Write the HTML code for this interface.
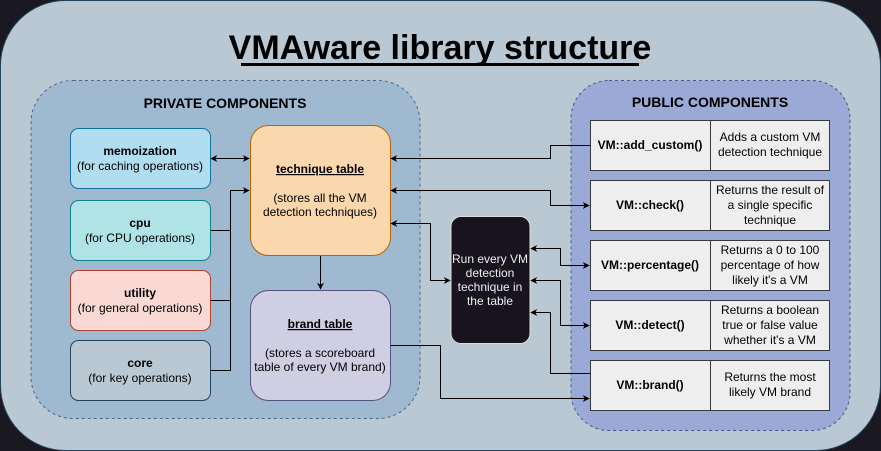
<!DOCTYPE html>
<html><head><meta charset="utf-8"><style>
html,body{margin:0;padding:0;background:#1a1821;}
svg{display:block;font-family:"Liberation Sans",Arial,sans-serif;}
</style></head><body>
<svg width="881" height="451" viewBox="0 0 881 451" xmlns="http://www.w3.org/2000/svg">
<defs>
<marker id="a" viewBox="0 0 10 10" refX="9" refY="5" markerWidth="7" markerHeight="7" orient="auto-start-reverse" markerUnits="userSpaceOnUse"><path d="M0,0 L10,5 L0,10 L3,5 z" fill="#000"/></marker>
</defs>
<rect x="0" y="0" width="881" height="451" fill="#1a1821"/>
<rect x="0.5" y="0.5" width="880" height="450" rx="65" fill="#b9c8d3" stroke="#23445d"/>
<text x="440" y="59" text-anchor="middle" font-size="34" font-weight="bold" fill="#000">VMAware library structure</text>
<rect x="241" y="63" width="398" height="3" fill="#000"/>

<rect x="31" y="80.5" width="389" height="338" rx="42" fill="#9fb9d1" stroke="#4a6a88" stroke-dasharray="3,3"/>
<text x="225" y="108" text-anchor="middle" font-size="14" font-weight="bold">PRIVATE COMPONENTS</text>
<rect x="571" y="80.5" width="279" height="350" rx="38" fill="#9aa9d5" stroke="#4a5a88" stroke-dasharray="3,3"/>
<text x="710" y="107" text-anchor="middle" font-size="14" font-weight="bold">PUBLIC COMPONENTS</text>

<g font-size="12" text-anchor="middle">
<rect x="70.5" y="128.5" width="140" height="60" rx="8" fill="#b1ddf0" stroke="#10739e"/>
<text x="140" y="155" font-weight="bold">memoization</text><text x="140" y="170">(for caching operations)</text>
<rect x="70.5" y="200.5" width="140" height="60" rx="8" fill="#b0e3e6" stroke="#0e8088"/>
<text x="140" y="227" font-weight="bold">cpu</text><text x="140" y="242">(for CPU operations)</text>
<rect x="70.5" y="270.5" width="140" height="60" rx="8" fill="#fad9d5" stroke="#ae4132"/>
<text x="140" y="297" font-weight="bold">utility</text><text x="140" y="312">(for general operations)</text>
<rect x="70.5" y="340.5" width="140" height="60" rx="8" fill="#bac8d3" stroke="#23445d"/>
<text x="140" y="367" font-weight="bold">core</text><text x="140" y="382">(for key operations)</text>

<rect x="250.5" y="125.5" width="140" height="130" rx="18" fill="#fad7ac" stroke="#b46504"/>
<text x="320" y="173" font-weight="bold" text-decoration="underline">technique table</text>
<text x="320" y="202">(stores all the VM</text><text x="320" y="216">detection techniques)</text>
<rect x="250.5" y="290.5" width="140" height="110" rx="18" fill="#d0cee2" stroke="#56517e"/>
<text x="320" y="328" font-weight="bold" text-decoration="underline">brand table</text>
<text x="320" y="357">(stores a scoreboard</text><text x="320" y="371">table of every VM brand)</text>

<rect x="451" y="216.5" width="79" height="127" rx="10" fill="#18141d" stroke="#ddd"/>
<g fill="#eee"><text x="490" y="263">Run every VM</text><text x="490" y="277">detection</text><text x="490" y="291">technique in</text><text x="490" y="305">the table</text></g>

<g fill="#eeeeee" stroke="#36393d">
<rect x="590.5" y="120.5" width="120" height="50"/><rect x="710.5" y="120.5" width="119" height="50"/>
<rect x="590.5" y="180.5" width="120" height="50"/><rect x="710.5" y="180.5" width="119" height="50"/>
<rect x="590.5" y="240.5" width="120" height="50"/><rect x="710.5" y="240.5" width="119" height="50"/>
<rect x="590.5" y="300.5" width="120" height="50"/><rect x="710.5" y="300.5" width="119" height="50"/>
<rect x="590.5" y="360.5" width="120" height="50"/><rect x="710.5" y="360.5" width="119" height="50"/>
</g>
<g font-weight="bold">
<text x="650" y="149">VM::add_custom()</text>
<text x="650" y="209">VM::check()</text>
<text x="650" y="269">VM::percentage()</text>
<text x="650" y="329">VM::detect()</text>
<text x="650" y="389">VM::brand()</text>
</g>
<text x="770" y="141">Adds a custom VM</text><text x="770" y="156">detection technique</text>
<text x="770" y="194">Returns the result of</text><text x="770" y="209">a single specific</text><text x="770" y="224">technique</text>
<text x="770" y="254">Returns a 0 to 100</text><text x="770" y="269">percentage of how</text><text x="770" y="284">likely it's a VM</text>
<text x="770" y="314">Returns a boolean</text><text x="770" y="329">true or false value</text><text x="770" y="344">whether it's a VM</text>
<text x="770" y="381">Returns the most</text><text x="770" y="396">likely VM brand</text>
</g>

<g fill="none" stroke="#000" stroke-width="1">
<path d="M211,158.5 H249" marker-start="url(#a)" marker-end="url(#a)"/>
<path d="M211,230.5 H230.5 M211,300.5 H230.5 M211,370.5 H230.5 V190.5 H249" marker-end="url(#a)"/>
<path d="M320.5,256 V289" marker-end="url(#a)"/>
<path d="M590,145.5 H550.5 V158.5 H391" marker-end="url(#a)"/>
<path d="M391,190.5 H550.5 V205.5 H589" marker-start="url(#a)" marker-end="url(#a)"/>
<path d="M391,223.5 H430.5 V280.5 H450" marker-start="url(#a)" marker-end="url(#a)"/>
<path d="M531,248.5 H560.5 V265.5 H589" marker-start="url(#a)" marker-end="url(#a)"/>
<path d="M531,280.5 H560.5 V325.5 H589" marker-start="url(#a)" marker-end="url(#a)"/>
<path d="M590,373.5 H550.5 V312.5 H531" marker-end="url(#a)"/>
<path d="M391,345.5 H440.5 V398.5 H589" marker-end="url(#a)"/>
</g>
</svg>
</body></html>
